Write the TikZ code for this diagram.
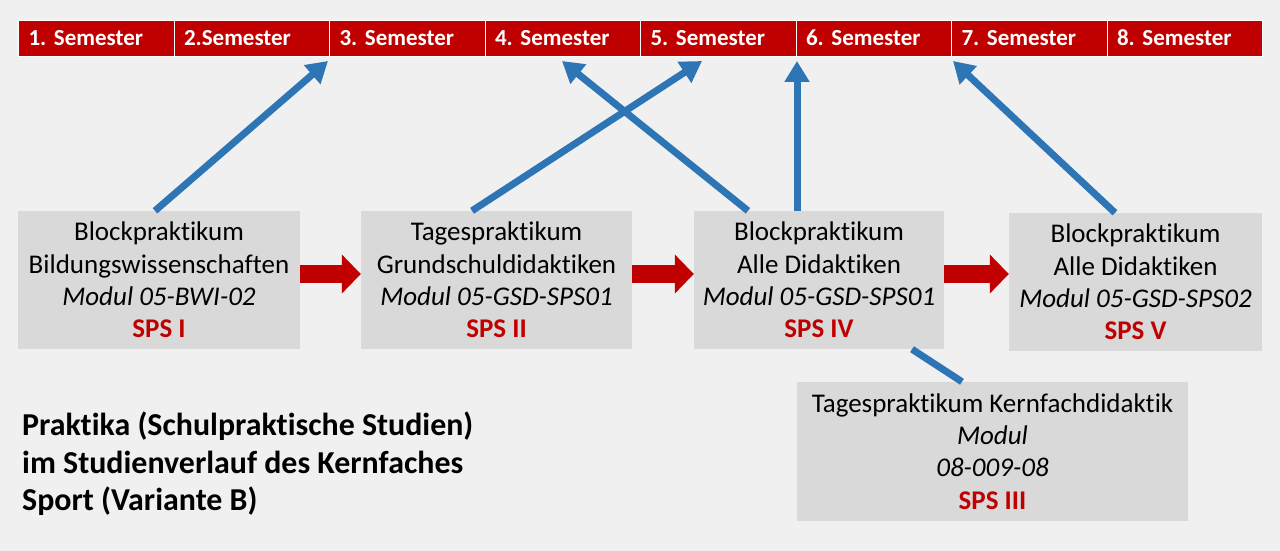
\documentclass[tikz,border=0pt]{standalone}
\usepackage{fontspec}
\setmainfont{Carlito}[Ligatures=NoCommon]
\usetikzlibrary{arrows.meta}
\definecolor{bgcol}{HTML}{F0F0F0}
\definecolor{semred}{HTML}{C00000}
\definecolor{arrblue}{HTML}{2E75B6}
\definecolor{boxgray}{HTML}{D9D9D9}
\frenchspacing
\begin{document}
\begin{tikzpicture}[x=1pt,y=-1pt,
  semcell/.style={fill=semred, draw=white, line width=1pt, anchor=north west,
    minimum height=36pt, text width=135.5pt, inner xsep=10pt, inner ysep=0pt,
    text height=17pt, text depth=3pt,
    align=left, text=white, font=\bfseries\fontsize{23}{26}\selectfont},
  pbox/.style={fill=boxgray, draw=none, inner sep=0pt, align=center,
    font=\fontsize{27}{32.3}\selectfont},
  bluearr/.style={draw=arrblue, line width=7pt, -{Triangle[length=21pt,width=24pt]}},
  blueline/.style={draw=arrblue, line width=7pt},
  redarr/.style={draw=semred, line width=18pt, -{Triangle[length=19pt,width=38pt]}},
  titletext/.style={anchor=north west, inner sep=0pt, align=left,
    font=\bfseries\fontsize{31.9}{37.5}\selectfont}
]
\fill[bgcol] (0,0) rectangle (1280,551);
\useasboundingbox (0,0) rectangle (1280,551);

% semester bar
\node[semcell] (s1) at (18,20) {1. Semester};
\node[semcell] (s2) at (173.5,20) {2.Semester};
\node[semcell] (s3) at (329,20) {3. Semester};
\node[semcell] (s4) at (484.5,20) {4. Semester};
\node[semcell] (s5) at (640,20) {5. Semester};
\node[semcell] (s6) at (795.5,20) {6. Semester};
\node[semcell] (s7) at (951,20) {7. Semester};
\node[semcell] (s8) at (1106.5,20) {8. Semester};

% boxes
\node[pbox, minimum width=282pt, minimum height=138pt] (b1) at (159,280)
  {Blockpraktikum\\Bildungswissenschaften\\\textit{Modul 05-BWI-02}\\\textcolor{semred}{\bfseries SPS I}};
\node[pbox, minimum width=271pt, minimum height=138pt] (b2) at (496.5,280)
  {Tagespraktikum\\Grundschuldidaktiken\\\textit{Modul 05-GSD-SPS01}\\\textcolor{semred}{\bfseries SPS II}};
\node[pbox, minimum width=250pt, minimum height=138pt] (b3) at (819,280)
  {Blockpraktikum\\Alle Didaktiken\\\textit{Modul 05-GSD-SPS01}\\\textcolor{semred}{\bfseries SPS IV}};
\node[pbox, minimum width=253pt, minimum height=138pt] (b4) at (1135.5,282)
  {Blockpraktikum\\Alle Didaktiken\\\textit{Modul 05-GSD-SPS02}\\\textcolor{semred}{\bfseries SPS V}};
\node[pbox, minimum width=391pt, minimum height=139pt] (b5) at (992.5,451.5)
  {Tagespraktikum Kernfachdidaktik\\\textit{Modul}\\\textit{08-009-08}\\\textcolor{semred}{\bfseries SPS III}};

% title
\node[titletext] (title) at (22,412)
  {Praktika (Schulpraktische Studien)\\im Studienverlauf des Kernfaches\\Sport (Variante B)};

% tips of blue arrows
\coordinate (t1) at (328,61);
\coordinate (t2) at (702,61);
\coordinate (t3) at (562,61);
\coordinate (t4) at (797,61);
\coordinate (t5) at (953,61);

% blue arrows
\draw[bluearr] ([xshift=-4pt]b1.north) -- (t1);
\draw[bluearr] ([xshift=-24.5pt]b2.north) -- (t2);
\draw[bluearr] ([xshift=-71pt]b3.north) -- (t3);
\draw[bluearr] ([xshift=-22pt]b3.north) -- (t4);
\draw[bluearr] ([xshift=-20.5pt]b4.north) -- (t5);
\draw[blueline] ([xshift=93pt]b3.south) -- ([xshift=-30.5pt]b5.north);

% red arrows
\draw[redarr] ([yshift=6pt]b1.east) -- ([yshift=6pt]b1.east -| b2.west);
\draw[redarr] ([yshift=6pt]b2.east) -- ([yshift=6pt]b2.east -| b3.west);
\draw[redarr] ([yshift=6pt]b3.east) -- ([yshift=6pt]b3.east -| b4.west);
\end{tikzpicture}
\end{document}
